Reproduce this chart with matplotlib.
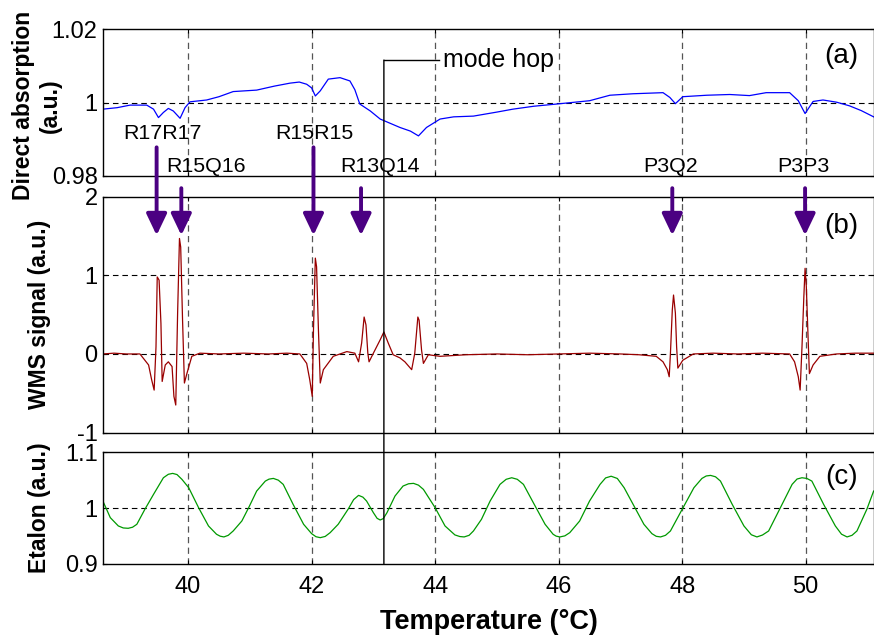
import matplotlib
matplotlib.use("Agg")
import matplotlib.pyplot as plt
from matplotlib.patches import ConnectionPatch

plt.rcParams['font.family'] = ['Liberation Sans', 'DejaVu Sans']

# ---------------- data ----------------
# (a) direct absorption
abs_T = [38.62, 38.85, 39.06, 39.33, 39.44, 39.52, 39.60, 39.68, 39.76, 39.87, 39.95, 40.03,
         40.30, 40.50, 40.73, 41.11, 41.40, 41.65, 41.80, 41.92, 42.00, 42.06, 42.14, 42.27, 42.46,
         42.62, 42.70, 42.78, 42.95, 43.11, 43.43, 43.60, 43.73, 43.86, 44.08, 44.30, 44.62, 45.00,
         45.26, 45.60, 45.97, 46.50, 46.83, 47.20, 47.69, 47.80, 47.89, 48.01, 48.40, 48.77, 49.09,
         49.36, 49.74, 49.88, 49.99, 50.12, 50.28, 50.50, 50.71, 50.90, 51.10]
abs_V = [0.9982, 0.9986, 0.9993, 0.9993, 0.9982, 0.9959, 0.9973, 0.9984, 0.9977, 0.9957, 0.9986, 1.0002,
         1.0007, 1.0016, 1.0030, 1.0034, 1.0045, 1.0053, 1.0056, 1.0050, 1.0040, 1.0018, 1.0032, 1.0064, 1.0068,
         1.0059, 1.0035, 0.9996, 0.9977, 0.9955, 0.9932, 0.9922, 0.9909, 0.9932, 0.9955, 0.9961, 0.9963, 0.9974,
         0.9982, 0.9990, 0.9996, 1.0005, 1.0020, 1.0024, 1.0027, 1.0014, 0.9997, 1.0016, 1.0020, 1.0022, 1.0019,
         1.0027, 1.0027, 1.0005, 0.9970, 1.0003, 1.0007, 1.0001, 0.9991, 0.9978, 0.9961]

# (b) WMS signal
wms_T = [38.62, 38.80, 39.00, 39.22, 39.36, 39.41, 39.45, 39.48, 39.50, 39.53, 39.56, 39.58, 39.63,
         39.68, 39.74, 39.77, 39.80, 39.83, 39.86, 39.88, 39.91, 39.94, 39.98, 40.06, 40.19, 40.50,
         40.90, 41.30, 41.60, 41.81, 41.92, 41.97, 42.01, 42.03, 42.06, 42.08, 42.11, 42.14, 42.19,
         42.35, 42.57, 42.70, 42.76, 42.81, 42.85, 42.88, 42.91, 42.93, 43.00, 43.11, 43.17, 43.24,
         43.32, 43.43, 43.51, 43.62, 43.67, 43.72, 43.74, 43.78, 43.81, 43.89, 44.08, 44.50, 45.00,
         45.50, 46.00, 46.50, 47.00, 47.30, 47.58, 47.69, 47.76, 47.79, 47.81, 47.84, 47.86, 47.89,
         47.91, 47.93, 48.01, 48.18, 48.50, 48.90, 49.30, 49.74, 49.82, 49.88, 49.91, 49.94, 49.97,
         49.99, 50.01, 50.04, 50.06, 50.12, 50.23, 50.50, 50.80, 51.10]
wms_V = [0.00, 0.01, 0.00, 0.00, -0.14, -0.33, -0.46, 0.09, 0.98, 0.94, 0.39, -0.35, -0.14,
         -0.10, -0.16, -0.54, -0.65, 0.52, 1.47, 1.36, 0.43, -0.37, -0.25, -0.03, 0.01, 0.00,
         0.01, 0.00, 0.01, 0.00, -0.12, -0.33, -0.54, 0.31, 1.22, 1.11, 0.31, -0.37, -0.20,
         -0.03, 0.03, 0.01, -0.10, 0.14, 0.47, 0.37, 0.01, -0.10, 0.01, 0.18, 0.28, 0.14,
         -0.01, -0.05, -0.10, -0.20, 0.01, 0.47, 0.43, 0.05, -0.12, -0.01, -0.03, -0.01, 0.00,
         -0.01, 0.00, 0.01, 0.00, -0.01, -0.03, -0.10, -0.20, -0.29, 0.01, 0.56, 0.75, 0.52,
         0.09, -0.18, -0.08, 0.00, 0.01, 0.00, 0.01, 0.00, -0.10, -0.29, -0.46, 0.09, 0.73,
         1.09, 0.86, 0.18, -0.25, -0.14, -0.03, 0.00, 0.01, 0.01]

# (c) etalon
eta_T = [38.62, 38.74, 38.87, 38.95, 39.03, 39.10, 39.17, 39.30, 39.44, 39.60, 39.68, 39.75, 39.82,
         39.90, 40.01, 40.17, 40.33, 40.46, 40.52, 40.58, 40.65, 40.73, 40.87, 40.98, 41.11, 41.25,
         41.31, 41.38, 41.46, 41.54, 41.70, 41.87, 42.00, 42.07, 42.14, 42.22, 42.30, 42.43, 42.59,
         42.68, 42.76, 42.83, 42.89, 43.00, 43.06, 43.11, 43.16, 43.22, 43.35, 43.48, 43.57, 43.65,
         43.73, 43.81, 44.00, 44.16, 44.32, 44.40, 44.47, 44.55, 44.62, 44.75, 44.89, 45.05, 45.15,
         45.24, 45.33, 45.43, 45.59, 45.78, 45.91, 45.96, 46.02, 46.10, 46.18, 46.34, 46.50, 46.67,
         46.76, 46.85, 46.95, 47.06, 47.22, 47.38, 47.51, 47.58, 47.65, 47.73, 47.81, 48.00, 48.19,
         48.32, 48.39, 48.46, 48.54, 48.62, 48.81, 49.00, 49.12, 49.21, 49.30, 49.40, 49.59, 49.78,
         49.86, 49.94, 50.02, 50.10, 50.29, 50.48, 50.58, 50.67, 50.75, 50.83, 50.99, 51.10]
eta_V = [1.0125, 0.9827, 0.9678, 0.9642, 0.9636, 0.9655, 0.9708, 0.9977, 1.0245, 1.0543, 1.0605, 1.0621, 1.0600,
         1.0514, 1.0364, 1.0005, 0.9678, 0.9529, 0.9494, 0.9481, 0.9510, 0.9588, 0.9767, 1.0005, 1.0304, 1.0483,
         1.0518, 1.0531, 1.0500, 1.0424, 1.0066, 0.9708, 0.9540, 0.9485, 0.9468, 0.9490, 0.9558, 0.9708, 0.9977,
         1.0150, 1.0227, 1.0195, 1.0125, 0.9916, 0.9815, 0.9785, 0.9810, 0.9916, 1.0215, 1.0394, 1.0435, 1.0442,
         1.0410, 1.0334, 1.0005, 0.9678, 0.9517, 0.9488, 0.9481, 0.9510, 0.9588, 0.9797, 1.0125, 1.0424, 1.0515,
         1.0543, 1.0515, 1.0424, 1.0095, 0.9708, 0.9529, 0.9495, 0.9481, 0.9500, 0.9558, 0.9767, 1.0125, 1.0424,
         1.0540, 1.0570, 1.0530, 1.0364, 1.0036, 0.9708, 0.9540, 0.9492, 0.9481, 0.9510, 0.9588, 0.9977, 1.0364,
         1.0531, 1.0575, 1.0585, 1.0560, 1.0483, 1.0066, 0.9678, 0.9520, 0.9481, 0.9515, 0.9588, 1.0005, 1.0424,
         1.0520, 1.0543, 1.0530, 1.0483, 1.0066, 0.9678, 0.9530, 0.9481, 0.9510, 0.9588, 0.9977, 1.0304]

# transition lines
line_names = ['R17R17', 'R15Q16', 'R15R15', 'R13Q14', 'P3Q2', 'P3P3']
line_T = [39.49, 39.89, 42.03, 42.80, 47.84, 49.99]
line_long = [True, False, True, False, False, False]
label_dx = [0.09, 0.40, 0.02, 0.30, -0.02, -0.03]

mode_hop_T = 43.17

x_ticks = [40, 42, 44, 46, 48, 50]
a_ticks = [0.98, 1.0, 1.02]
a_ticklabels = ['0.98', '1', '1.02']
b_ticks = [-1, 0, 1, 2]
b_ticklabels = ['-1', '0', '1', '2']
c_ticks = [0.9, 1.0, 1.1]
c_ticklabels = ['0.9', '1', '1.1']

# ---------------- figure ----------------
fig = plt.figure(figsize=(8.74, 6.37), dpi=100)
L, R = 0.118, 1.0
axa = fig.add_axes([L, 0.724, R - L, 0.954 - 0.724])
axb = fig.add_axes([L, 0.321, R - L, 0.691 - 0.321])
axc = fig.add_axes([L, 0.115, R - L, 0.290 - 0.115])

XLIM = (38.624, 51.106)
TICK_FS = 17
arrow_col = '#4B0082'

def style(ax, yt, ytl, ylim):
    ax.set_xlim(*XLIM)
    ax.set_ylim(*ylim)
    ax.set_xticks(x_ticks)
    ax.set_yticks(yt)
    ax.set_yticklabels(ytl)
    ax.tick_params(direction='in', length=3, labelsize=TICK_FS, top=True, right=True, width=0.8)
    ax.tick_params(axis='y', pad=4)
    ax.tick_params(axis='x', pad=9)
    for sp in ax.spines.values():
        sp.set_linewidth(1.0)
    for xv in x_ticks:
        ax.axvline(xv, color='#555555', lw=0.9, ls=(0, (5, 3.5)), zorder=0.5)
    for yv in yt[1:-1]:
        ax.axhline(yv, color='black', lw=0.8, ls=(0, (5, 3.5)), zorder=0.5)

style(axa, a_ticks, a_ticklabels, (0.98, 1.02))
style(axb, b_ticks, b_ticklabels, (-1, 2))
style(axc, c_ticks, c_ticklabels, (0.9, 1.1))
axa.tick_params(labelbottom=False)
axb.tick_params(labelbottom=False)
axc.set_xticklabels([str(v) for v in x_ticks])

axa.plot(abs_T, abs_V, color='#0000FF', lw=0.9)
axb.plot(wms_T, wms_V, color='#990000', lw=0.9)
axc.plot(eta_T, eta_V, color='#009900', lw=0.9, solid_joinstyle='round')

lab_kw = dict(fontsize=16.5, fontweight='bold')
# two-line label of panel (a) as two separate texts
axa.text(-0.103, 0.48, 'Direct absorption', transform=axa.transAxes, rotation=90,
         ha='center', va='center', **lab_kw)
axa.text(-0.069, 0.48, '(a.u.)', transform=axa.transAxes, rotation=90,
         ha='center', va='center', **lab_kw)
axb.set_ylabel('WMS signal (a.u.)', **lab_kw)
axc.set_ylabel('Etalon (a.u.)', **lab_kw)
axb.yaxis.set_label_coords(-0.068, 0.5)
axc.yaxis.set_label_coords(-0.068, 0.5)
axc.set_xlabel('Temperature (°C)', fontsize=19.5, fontweight='bold', labelpad=8)

# panel labels
for ax, s, yf in [(axa, '(a)', 0.82), (axb, '(b)', 0.875), (axc, '(c)', 0.78)]:
    ax.text(0.958, yf, s, transform=ax.transAxes, fontsize=20, ha='center', va='center')

# arrows and line labels (in panel b data coordinates)
ARROW_TIP = 1.51
ARROW_TOP_LONG = 2.63
ARROW_TOP_SHORT = 2.11
for name, T, lg, dx in zip(line_names, line_T, line_long, label_dx):
    top = ARROW_TOP_LONG if lg else ARROW_TOP_SHORT
    axb.annotate('', xy=(T, ARROW_TIP), xytext=(T, top), xycoords='data', textcoords='data',
                 annotation_clip=False,
                 arrowprops=dict(arrowstyle='-|>,head_length=1.3,head_width=0.62', lw=2.8,
                                 color=arrow_col, shrinkA=0, shrinkB=0, mutation_scale=10))
    ty = 2.80 if lg else 2.38
    axb.text(T + dx, ty, name, fontsize=15.4, ha='center', va='center', clip_on=False)

# mode hop line
MH_TOP = 1.0116
con = ConnectionPatch(xyA=(mode_hop_T, MH_TOP), coordsA=axa.transData,
                      xyB=(mode_hop_T, 0.9), coordsB=axc.transData, color='black', lw=1.0)
fig.add_artist(con)
axa.plot([mode_hop_T, 44.07], [MH_TOP, MH_TOP], color='black', lw=1.0, clip_on=False)
axa.text(44.13, MH_TOP, 'mode hop', fontsize=18, ha='left', va='center')

fig.savefig('out.png', dpi=100)
